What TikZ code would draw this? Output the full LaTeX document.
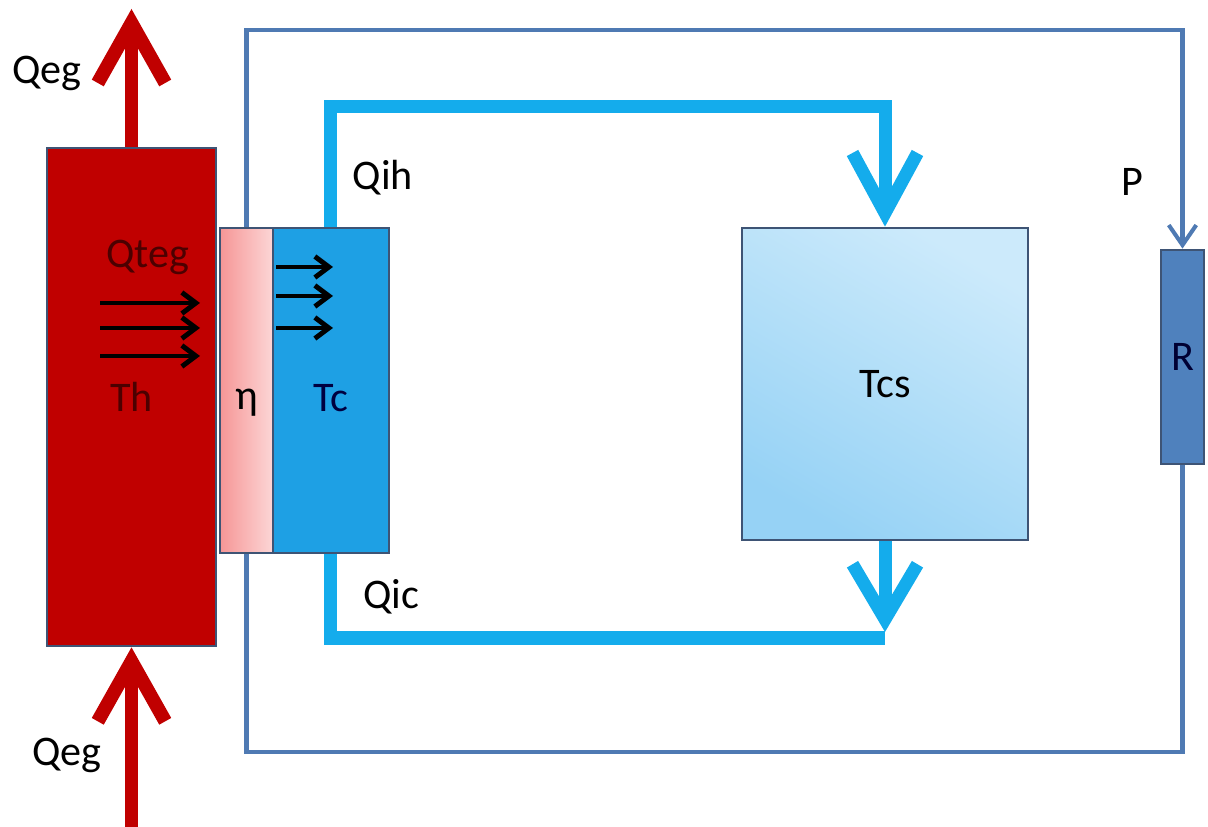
\documentclass[tikz,border=0pt]{standalone}
\usepackage{fontspec}
\setmainfont{Carlito}
\usetikzlibrary{arrows.meta,positioning}
\definecolor{hotred}{RGB}{192,0,0}
\definecolor{edge}{RGB}{62,84,117}
\definecolor{etadark}{RGB}{246,150,150}
\definecolor{etalight}{RGB}{252,214,214}
\definecolor{coldblue}{RGB}{30,160,228}
\definecolor{pipeblue}{RGB}{20,172,236}
\definecolor{sinkdark}{RGB}{150,210,245}
\definecolor{sinklight}{RGB}{204,234,251}
\definecolor{loadblue}{RGB}{79,129,189}
\definecolor{wireblue}{RGB}{79,122,179}

\begin{document}
\begin{tikzpicture}[
  x=0.02cm,y=-0.02cm,
  every node/.style={font=\fontsize{24}{28}\selectfont},
  block/.style={draw=edge,line width=1.6pt,inner sep=0pt},
  wire/.style={wireblue,line width=2.3pt},
  pipe/.style={pipeblue,line width=7.4pt},
  flow/.style={hotred,line width=7.8pt},
  heat/.style={black,line width=2.8pt,-{Straight Barb[length=8pt,width=12pt]}}
]
  \useasboundingbox (0,0) rectangle (1208,827);

  \node[block,fill=hotred,text=red!30!black,minimum width=3.38cm,minimum height=9.96cm] (hot) at (131.5,397) {Th};
  \node[block,left color=etadark,right color=etalight,minimum width=1.06cm,minimum height=6.5cm,text height=0.75cm,text depth=0pt] (eta) at (246.5,390.5) {η};
  \node[block,fill=coldblue,text=blue!25!black,minimum width=2.32cm,minimum height=6.5cm,text height=0.85cm,text depth=0pt,right=-1.6pt of eta] (Tc) {Tc};
  \node[block,top color=sinklight,bottom color=sinkdark,shading angle=-30,minimum width=5.72cm,minimum height=6.24cm] (Tcs) at (885,384) {Tcs};
  \node[block,fill=loadblue,text=blue!20!black,minimum width=0.86cm,minimum height=4.28cm] (R) at (1182.5,357) {R};

  \node (qegout) at (47,73) {Qeg};
  \node (qegin) at (67,755) {Qeg};
  \node[text=red!30!black] (qteg) at (148,257) {Qteg};
  \node (qih) at (383,178) {Qih};
  \node (qic) at (391,597) {Qic};
  \node (pw) at (1132,182) {P};

  \coordinate (wne) at (1182.5,30);
  \coordinate (wse) at (1182.5,752);
  \coordinate (ptop) at (885,107);
  \coordinate (pbot) at (885,638);
  \coordinate (pdrop) at (885,632);
  \coordinate (flowtop) at (131.5,9);
  \coordinate (flowbot) at (131.5,827);

  \draw[wire,-{Straight Barb[length=0.4cm,width=0.55cm]}] (eta.north) |- (wne) -- (R.north);
  \draw[wire] (R.south) -- (wse) -| (eta.south);

  \draw[pipe,-{Straight Barb[length=1.2cm,width=1.3cm]}] (Tc.north) |- (ptop) -- (Tcs.north);
  \draw[pipe] (Tc.south) |- (pbot);
  \draw[pipe,-{Straight Barb[length=1.1cm,width=1.3cm]}] (Tcs.south) -- (pdrop);

  \draw[flow,-{Straight Barb[length=1.2cm,width=1.35cm]}] (hot.north) -- (flowtop);
  \draw[flow,-{Straight Barb[length=1.2cm,width=1.35cm]}] (flowbot) -- (hot.south);

  \foreach \y [count=\i] in {303,328,356} {
    \coordinate (hl\i) at (100,\y);
    \coordinate (hr\i) at (200,\y);
    \draw[heat] (hl\i) -- (hr\i);
  }
  \foreach \y [count=\i] in {267,296,328} {
    \coordinate (cl\i) at (276,\y);
    \coordinate (cr\i) at (333,\y);
    \draw[heat] (cl\i) -- (cr\i);
  }
\end{tikzpicture}
\end{document}
